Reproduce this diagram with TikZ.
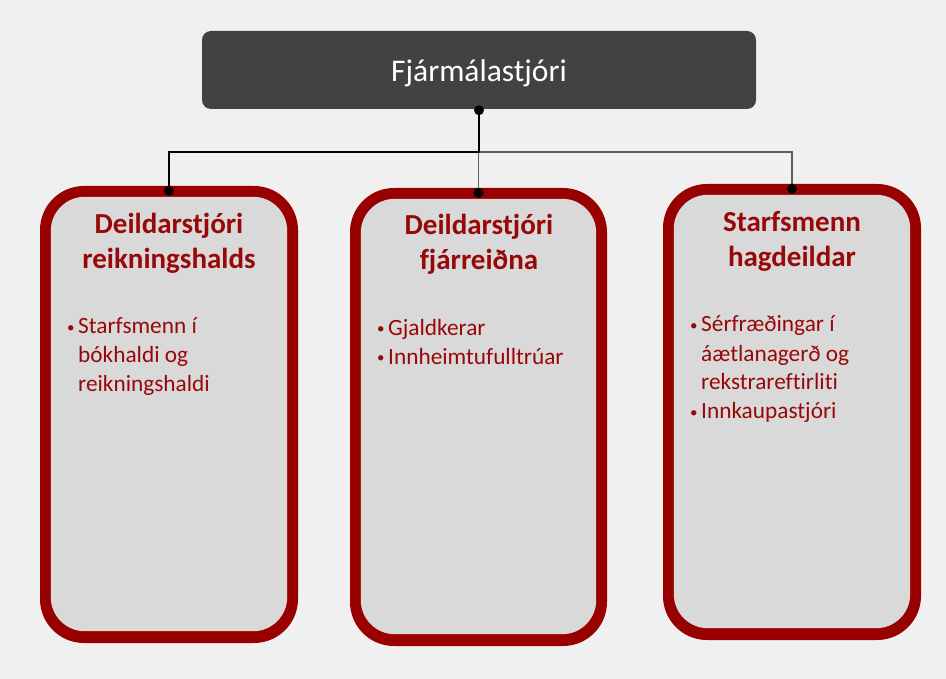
\documentclass[tikz,border=0pt]{standalone}
\usepackage{fontspec}
\setmainfont{Carlito}[Ligatures={NoCommon}]
\usetikzlibrary{calc}
\definecolor{bgcol}{HTML}{F0F0F0}
\definecolor{headfill}{HTML}{424242}
\definecolor{dred}{HTML}{990000}
\definecolor{txtred}{HTML}{980808}
\definecolor{panelfill}{HTML}{D9D9D9}
\definecolor{linegray}{HTML}{5E5E5E}
% small list bullet
\newcommand{\itembullet}{\raisebox{1.5pt}{\fontsize{15}{15}\selectfont•}}
\begin{document}
\begin{tikzpicture}[x=1pt,y=1pt,
  headbox/.style={fill=headfill, rounded corners=9pt, minimum width=554pt,
    minimum height=78pt, inner sep=0pt, text=white,
    text height=28pt, text depth=4.6pt,
    font=\fontsize{31.5}{36}\selectfont},
  outerbox/.style={fill=dred, rounded corners=44pt, minimum width=258pt,
    minimum height=457pt, inner sep=0pt},
  panel/.style={fill=panelfill, rounded corners=34pt},
  titletext/.style={anchor=base, inner sep=0pt, text=txtred,
    font=\fontsize{29}{35}\selectfont\bfseries},
  itemtext/.style={anchor=base west, inner sep=0pt, text=txtred,
    font=\fontsize{23.3}{29}\selectfont},
  conn/.style={line width=1.4pt},
  dot/.style={fill=black, circle, minimum size=10pt, inner sep=0pt}
]
\fill[bgcol] (0,0) rectangle (946,-679);
\useasboundingbox (0,0) rectangle (946,-679);

% head of department
\node[headbox] (top) at (479,-70) {Fjármálastjóri};

% three department panels: red frame with a light inner face
\node[outerbox] (b1) at (169,-414.5) {};
\node[outerbox, minimum width=257pt, minimum height=458pt] (b2) at (478.5,-417) {};
\node[outerbox, minimum height=456pt] (b3) at (792,-412) {};
\foreach \b in {b1,b2,b3}{
  \fill[panel] ($(\b.north west)+(11,-11)$) rectangle ($(\b.south east)+(-11,12)$);
}

% connectors from the head to each panel
\draw[conn, linegray] (top.south) -- ++(0,-43) -| (b3.north);
\draw[conn, linegray] (top.south) -- ++(0,-43) -| (b2.north);
\draw[conn, black] (top.south) -- ++(0,-43) -| (b1.north);
\node[dot] (dtop) at ([yshift=-1pt]top.south) {};
\node[dot] (d1) at ([yshift=-5pt]b1.north) {};
\node[dot] (d2) at ([yshift=-5pt]b2.north) {};
\node[dot] (d3) at ([yshift=-5pt]b3.north) {};

% panel titles
\node[titletext] (t1) at (169,-233.5)
  {\begin{tabular}[t]{@{}c@{}}Deildarstjóri\\reikningshalds\end{tabular}};
\node[titletext] (t2) at (479,-234.3)
  {\begin{tabular}[t]{@{}c@{}}Deildarstjóri\\fjárreiðna\end{tabular}};
\node[titletext] (t3) at (792,-231.7)
  {\begin{tabular}[t]{@{}c@{}}Starfsmenn\\hagdeildar\end{tabular}};

% bullet lists
\node[itemtext] (l1) at (67,-334)
  {\begin{tabular}[t]{@{}p{11pt}@{}l@{}}\itembullet&Starfsmenn í\\&bókhaldi og\\&reikningshaldi\end{tabular}};
\node[itemtext] (l2) at (377,-335)
  {\begin{tabular}[t]{@{}p{11pt}@{}l@{}}\itembullet&Gjaldkerar\\\itembullet&Innheimtufulltrúar\end{tabular}};
\node[itemtext] (l3) at (690,-332)
  {\begin{tabular}[t]{@{}p{11pt}@{}l@{}}\itembullet&Sérfræðingar í\\&áætlanagerð og\\&rekstrareftirliti\\\itembullet&Innkaupastjóri\end{tabular}};
\end{tikzpicture}
\end{document}
